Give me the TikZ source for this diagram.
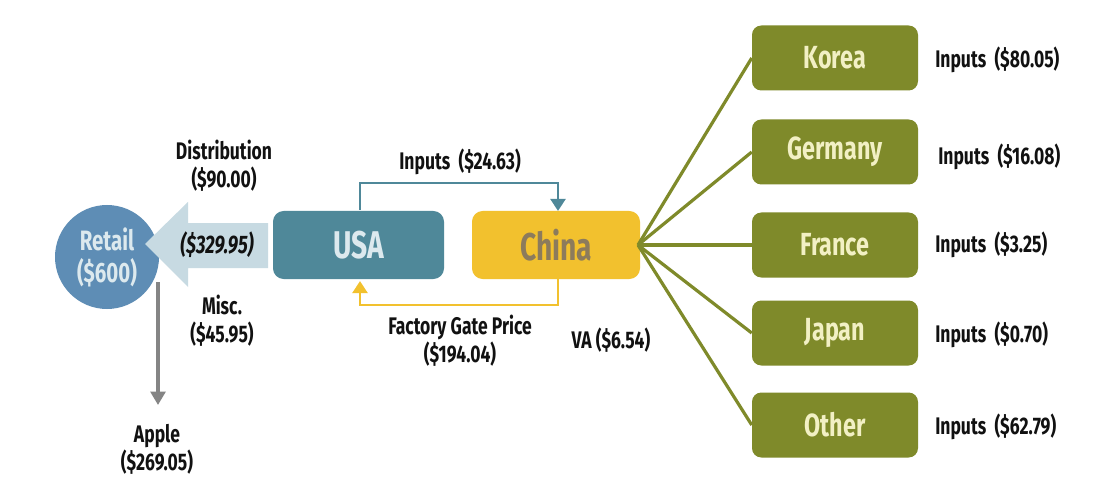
\documentclass[tikz,border=0pt]{standalone}
\usepackage{fontspec}
\setmainfont[FakeStretch=0.73]{Fira Sans}
\usetikzlibrary{arrows.meta}
\definecolor{retailblue}{HTML}{5E8DB5}
\definecolor{arrowpale}{HTML}{C7DAE2}
\definecolor{usateal}{HTML}{4F8899}
\definecolor{usatext}{HTML}{DCE9EE}
\definecolor{chinayellow}{HTML}{F2C12E}
\definecolor{chinatext}{HTML}{8C7B5C}
\definecolor{olive}{HTML}{7F8A2A}
\definecolor{cream}{HTML}{F2F0C4}
\definecolor{greyarrow}{HTML}{858585}
\definecolor{ink}{HTML}{111111}
\tikzset{
  lbl/.style={text=ink,font=\bfseries\fontsize{18}{21}\selectfont,align=center,inner sep=0pt},
  country/.style={draw=none,fill=olive,rounded corners=7pt,minimum width=166*0.75pt,minimum height=65*0.75pt,text=cream,font=\bfseries\fontsize{24}{28}\selectfont,inner sep=0pt},
  bigbox/.style={rounded corners=8pt,minimum height=68*0.75pt,inner sep=0pt,font=\bfseries\fontsize{29}{33}\selectfont},
  feed/.style={olive,line width=2.4pt},
}
\begin{document}
\begin{tikzpicture}[x=0.75pt,y=-0.75pt]
\useasboundingbox[fill=white] (0,0) rectangle (1094,495);
% retail circle
\node[circle,fill=retailblue,minimum size=104*0.75pt,inner sep=0pt,text=usatext,font=\bfseries\fontsize{21}{24}\selectfont,align=center] (retail) at (107,257) {Retail\\(\$600)};
% grey arrow to Apple
\coordinate (gtop) at (158,282);
\coordinate (gend) at (158,405);
\node[lbl] (apple) at (157,449) {Apple\\(\$269.05)};
\draw[greyarrow,line width=2.6pt,-{Triangle[length=10pt,width=11pt]}] (gtop) -- (gend);
% USA, China
\node[bigbox,fill=usateal,text=usatext,minimum width=171*0.75pt] (usa) at (358.5,245) {USA};
\node[bigbox,fill=chinayellow,text=chinatext,minimum width=168*0.75pt] (china) at (556,245) {China};
% big pale arrow
\fill[arrowpale] (145,244) -- (188,202) -- (188,223) -- (268,223) -- (268,268) -- (188,268) -- (188,287) -- cycle;
\node[text=ink,font=\bfseries\itshape\fontsize{19}{22}\selectfont,inner sep=0pt] (amount) at (217,245) {(\$329.95)};
\node[lbl] (distrib) at (224,166) {Distribution\\(\$90.00)};
\node[lbl] (misc) at (222,321) {Misc.\\(\$45.95)};
% inputs arrow USA -> China
\coordinate (ustart) at (360,210);
\coordinate (cend) at (558,211);
\draw[usateal,line width=2.2pt,-{Triangle[length=9pt,width=11pt]}] (ustart) -- (360,183) -| (cend);
\node[lbl] (inlbl) at (460,162) {Inputs\ \ (\$24.63)};
% factory gate arrow China -> USA
\coordinate (cstart) at (558,279);
\coordinate (uend) at (360,281);
\draw[chinayellow,line width=2.2pt,-{Triangle[length=9pt,width=11pt]}] (cstart) -- (558,305) -| (uend);
\node[lbl] (fgp) at (460,341) {Factory Gate Price\\(\$194.04)};
\node[lbl] (va) at (611,340) {VA (\$6.54)};
% countries
\node[country] (korea) at (835,58) {Korea};
\node[country] (germany) at (835,152) {Germany};
\node[country] (france) at (835,245) {France};
\node[country] (japan) at (835,333) {Japan};
\node[country] (other) at (835,425) {Other};
\coordinate (hub) at (638,245);
\foreach \c in {korea,germany,france,japan,other}
  \draw[feed] (hub) -- (\c.west);
\node[lbl,anchor=west] (ik) at (935,60) {Inputs\ \ (\$80.05)};
\node[lbl,anchor=west] (ig) at (938,157) {Inputs\ \ (\$16.08)};
\node[lbl,anchor=west] (ifr) at (935,245) {Inputs\ \ (\$3.25)};
\node[lbl,anchor=west] (ij) at (935,335) {Inputs\ \ (\$0.70)};
\node[lbl,anchor=west] (io) at (935,427) {Inputs\ \ (\$62.79)};
\end{tikzpicture}
\end{document}
